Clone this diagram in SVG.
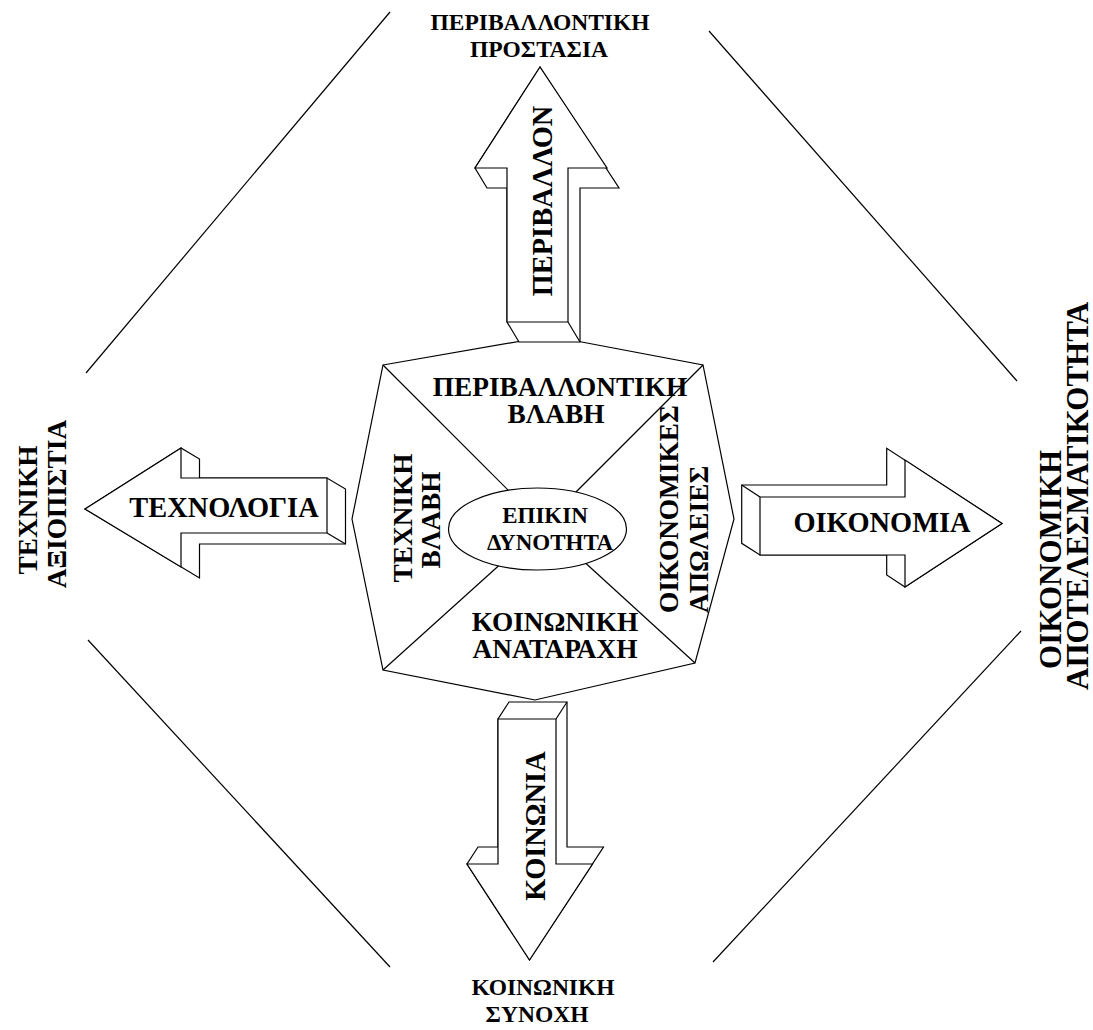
<svg xmlns="http://www.w3.org/2000/svg" width="1093" height="1030" viewBox="0 0 1093 1030">
<style>
.ln{stroke:#000;stroke-width:1.2;fill:none}
.sh{stroke:#000;stroke-width:1.2;fill:#fff;stroke-linejoin:miter}
.t{font-family:"Liberation Serif","Times New Roman",serif;font-weight:bold;fill:#000}
.big{font-size:27.3px}
.arr{font-size:28.4px}
.mid{font-size:23px}
.lab{font-size:23.5px}
.rl{font-size:31px}
</style>
<rect width="1093" height="1030" fill="#fff"/>
<g id="connectors">
<line class="ln" x1="390" y1="12" x2="86" y2="373"/>
<line class="ln" x1="709" y1="31" x2="1017" y2="381"/>
<line class="ln" x1="88" y1="640" x2="390" y2="967"/>
<line class="ln" x1="1021" y1="631" x2="713" y2="962"/>
</g>
<g id="center">
<polygon class="sh" points="383,365 550,336 703,365 734,519 695,663 535,700 383,670 352,519"/>
<line class="ln" x1="383" y1="365" x2="514" y2="496"/>
<line class="ln" x1="703" y1="365" x2="572" y2="496"/>
<line class="ln" x1="383" y1="670" x2="505" y2="560"/>
<line class="ln" x1="695" y1="663" x2="580" y2="558"/>
<text class="t big" x="560" y="396" text-anchor="middle">ΠΕΡΙΒΑΛΛΟΝΤΙΚΗ</text>
<text class="t big" x="556" y="423" text-anchor="middle">ΒΛΑΒΗ</text>
<text class="t big" x="555" y="631" text-anchor="middle">ΚΟΙΝΩΝΙΚΗ</text>
<text class="t big" x="555" y="658" text-anchor="middle">ΑΝΑΤΑΡΑΧΗ</text>
<text class="t big" text-anchor="middle" transform="translate(412,518) rotate(-90)">ΤΕΧΝΙΚΗ</text>
<text class="t big" text-anchor="middle" transform="translate(440,520) rotate(-90)">ΒΛΑΒΗ</text>
<text class="t big" text-anchor="start" transform="translate(678,613) rotate(-90)">ΟΙΚΟΝΟΜΙΚΕΣ</text>
<text class="t big" text-anchor="start" transform="translate(708,613) rotate(-90)">ΑΠΩΛΕΙΕΣ</text>
</g>
<g id="core">
<ellipse class="sh" cx="537.5" cy="529" rx="89" ry="41"/>
<text class="t mid" x="545" y="523" text-anchor="middle">ΕΠΙΚΙΝ</text>
<text class="t mid" x="550" y="550" text-anchor="middle">ΔΥΝΟΤΗΤΑ</text>
</g>
<g id="arrow-top">
<path class="sh" d="M540,67 L619,188 L580,188 L580,342 L519,342 L507,322 L507,188 L487,188 L475,168 Z"/>
<path class="sh" d="M540,67 L607,168 L568,168 L568,322 L507,322 L507,168 L475,168 Z"/>
<line class="ln" x1="568" y1="322" x2="580" y2="342"/>
<text class="t arr" text-anchor="middle" transform="translate(552,201) rotate(-90)">ΠΕΡΙΒΑΛΛΟΝ</text>
</g>
<g id="arrow-left">
<path class="sh" d="M85,509 L181,448 L199.5,459 L199.5,478 L327,478 L345.5,489 L345.5,544 L199.5,544 L199.5,578 Z"/>
<path class="sh" d="M85,509 L181,448 L181,478 L327,478 L327,533 L181,533 L181,567 Z"/>
<line class="ln" x1="327" y1="533" x2="345.5" y2="544"/>
<text class="t arr" x="224" y="517" text-anchor="middle">ΤΕΧΝΟΛΟΓΙΑ</text>
</g>
<g id="arrow-right">
<path class="sh" d="M1002,523.5 L886.7,448.3 L886.7,485 L741.7,485 L741.7,543.3 L760,555 L886.7,555 L886.7,575 L905,587 Z"/>
<path class="sh" d="M760,497 L905,497 L905,460 L1002,523.5 L905,587 L905,555 L760,555 Z"/>
<line class="ln" x1="760" y1="497" x2="741.7" y2="485"/>
<text class="t arr" x="882" y="532" text-anchor="middle">ΟΙΚΟΝΟΜΙΑ</text>
</g>
<g id="arrow-bottom">
<path class="sh" d="M529.5,960 L467,864 L478,847 L498,847 L498,719 L509,702 L567,702 L567,847 L603.5,847 Z"/>
<path class="sh" d="M498,719 L556,719 L556,864 L592.5,864 L529.5,960 L467,864 L498,864 Z"/>
<line class="ln" x1="556" y1="719" x2="567" y2="702"/>
<text class="t arr" text-anchor="middle" transform="translate(545,826) rotate(-90)">ΚΟΙΝΩΝΙΑ</text>
</g>
<g id="label-top">
<text class="t lab" x="540" y="30" text-anchor="middle">ΠΕΡΙΒΑΛΛΟΝΤΙΚΗ</text>
<text class="t lab" x="539" y="57" text-anchor="middle">ΠΡΟΣΤΑΣΙΑ</text>
</g>
<g id="label-bottom">
<text class="t lab" x="543" y="995" text-anchor="middle">ΚΟΙΝΩΝΙΚΗ</text>
<text class="t lab" x="537" y="1022" text-anchor="middle">ΣΥΝΟΧΗ</text>
</g>
<g id="label-left">
<text class="t big" text-anchor="middle" transform="translate(37,510) rotate(-90)">ΤΕΧΝΙΚΗ</text>
<text class="t big" text-anchor="middle" transform="translate(66,504) rotate(-90)">ΑΞΙΟΠΙΣΤΙΑ</text>
</g>
<g id="label-right">
<text class="t rl" text-anchor="start" transform="translate(1061,669) rotate(-90)">ΟΙΚΟΝΟΜΙΚΗ</text>
<text class="t rl" text-anchor="start" transform="translate(1088,690) rotate(-90)">ΑΠΟΤΕΛΕΣΜΑΤΙΚΟΤΗΤΑ</text>
</g>
</svg>
